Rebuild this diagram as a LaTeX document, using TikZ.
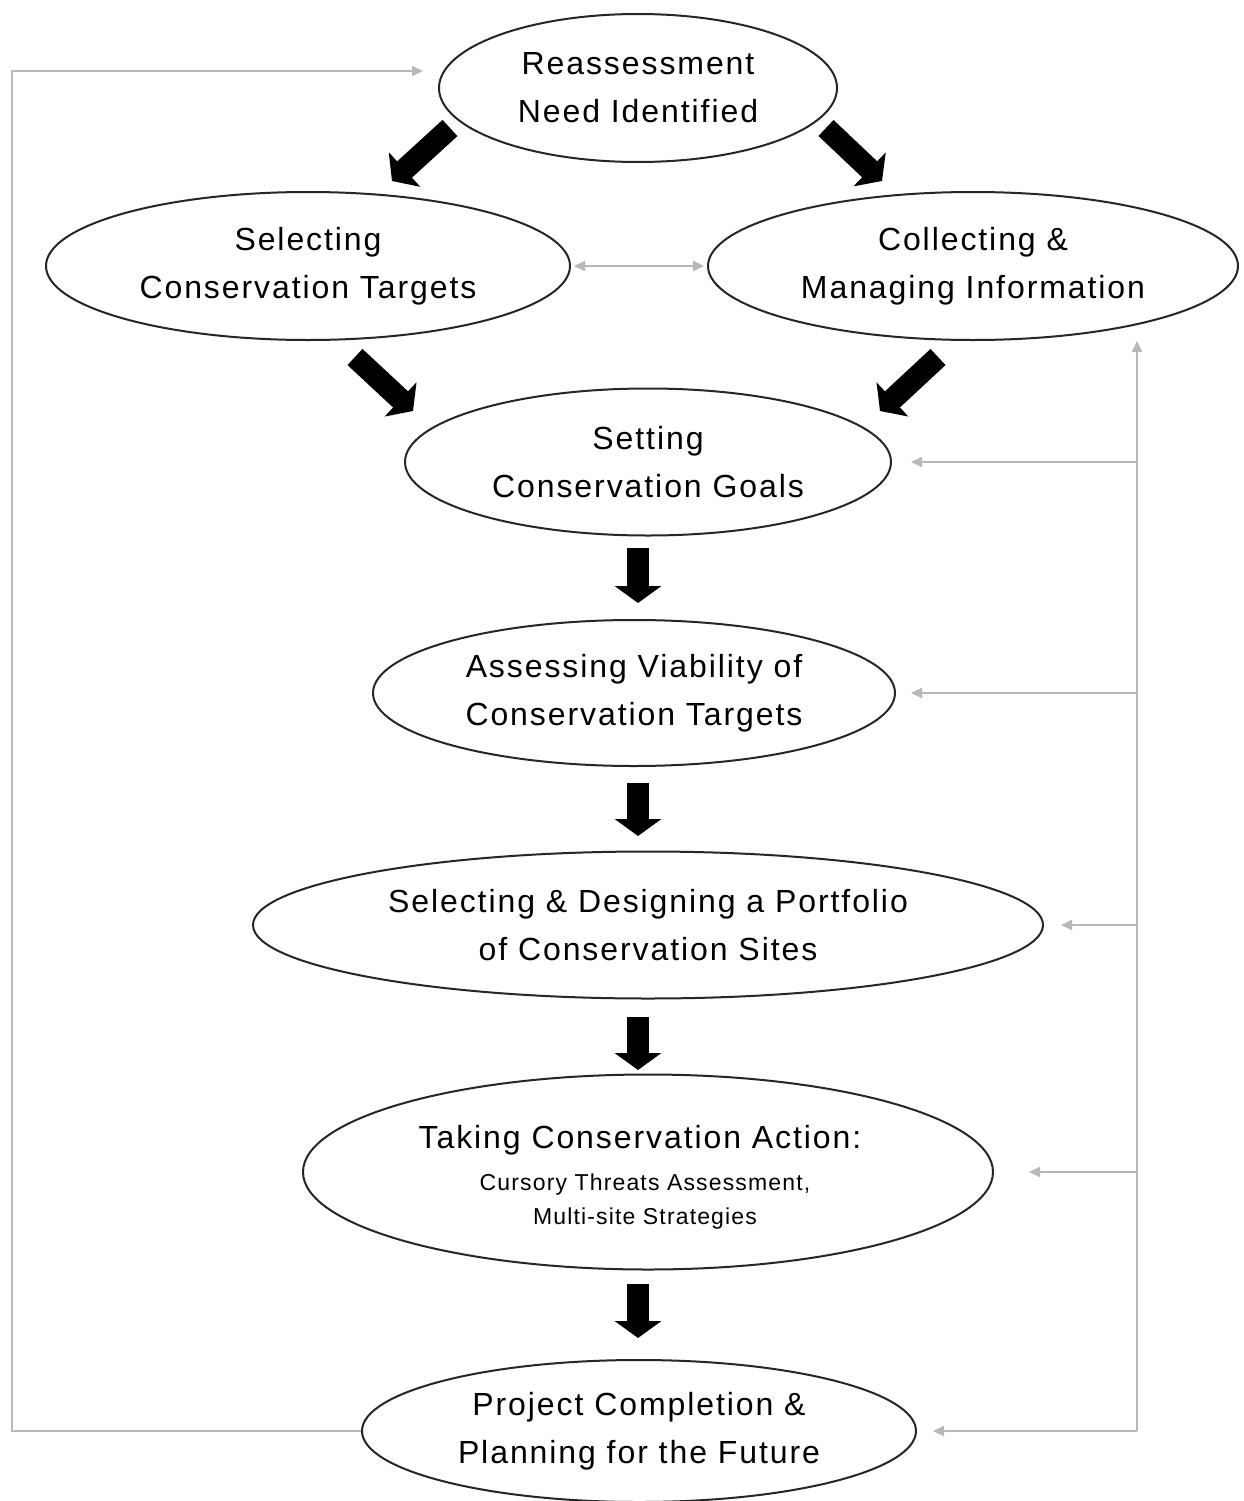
\documentclass[tikz,border=0pt]{standalone}
\usepackage{fontspec}
\setmainfont{Liberation Sans}[LetterSpace=6]
\usetikzlibrary{shapes.geometric,arrows.meta,calc}
\definecolor{lgray}{HTML}{B8B8B8}
\tikzset{
  oval/.style={ellipse,draw=black!85,line width=2pt,inner sep=0pt,align=center,
    font=\fontsize{32}{48}\selectfont},
  fat/.style={line width=22pt,draw=black,-{Triangle[length=17pt,width=46pt]}},
  gl/.style={draw=lgray,line width=2.2pt},
  ga/.style={gl,-{Triangle[length=11pt,width=10pt]}},
}
\begin{document}
\begin{tikzpicture}[x=1pt,y=-1pt]
\useasboundingbox (0,0) rectangle (1243,1501);
\fill[white] (0,0) rectangle (1243,1501);
% nodes
\node[oval,minimum width=398pt,minimum height=148pt] (reass) at (638,88) {Reassessment\\Need Identified};
\node[oval,minimum width=524pt,minimum height=148pt] (select) at (308,266) {Selecting\\Conservation Targets};
\node[oval,minimum width=530pt,minimum height=148pt] (collect) at (973,266) {Collecting \&\\Managing Information};
\node[oval,minimum width=486pt,minimum height=147pt] (goals) at (648,462) {Setting\\Conservation Goals};
\node[oval,minimum width=522pt,minimum height=146pt] (viab) at (634,693) {Assessing Viability of\\Conservation Targets};
\node[oval,minimum width=790pt,minimum height=147pt] (port) at (648,925) {Selecting \& Designing a Portfolio\\of Conservation Sites};
\node[oval,minimum width=690pt,minimum height=195pt] (action) at (648,1172) {};
\node[font=\fontsize{32}{48}\selectfont] (actT) at (640,1140) {Taking Conservation Action:};
\node[align=center,font=\fontsize{23}{34}\selectfont\addfontfeatures{LetterSpace=5}] (actS) at (645,1202) {Cursory Threats Assessment,\\Multi-site Strategies};
\node[oval,minimum width=554pt,minimum height=142pt] (proj) at (639,1431) {Project Completion \&\\Planning for the Future};
% fat arrow end points
\coordinate (f1a) at (450,128); \coordinate (f1b) at (392,181);
\coordinate (f2a) at (826,128); \coordinate (f2b) at (882,181);
\coordinate (f3a) at (355,357); \coordinate (f3b) at (413,411);
\coordinate (f4a) at (938,357); \coordinate (f4b) at (880,411);
\coordinate (f5a) at (638,548); \coordinate (f5b) at (638,603);
\coordinate (f6a) at (638,783); \coordinate (f6b) at (638,836);
\coordinate (f7a) at (638,1017); \coordinate (f7b) at (638,1070);
\coordinate (f8a) at (638,1284); \coordinate (f8b) at (638,1338);
\foreach \i in {1,...,8} {\draw[fat] (f\i a) -- (f\i b);}
% gray connectors
\draw[ga,{Triangle[length=11pt,width=10pt]}-{Triangle[length=11pt,width=10pt]},shorten <=3pt,shorten >=3pt] (select.east) -- (collect.west);
\draw[ga,shorten >=15pt] (proj.west) -- (12,1431) |- ([yshift=17pt]reass.west);
\coordinate (busB) at (1137,1431);
\draw[ga] (proj.east -| busB) -- (busB |- collect.south);
\draw[ga,shorten >=19pt] (busB |- goals.east) -- (goals.east);
\draw[ga,shorten >=15pt] (busB |- viab.east) -- (viab.east);
\draw[ga,shorten >=17pt] (busB |- port.east) -- (port.east);
\draw[ga,shorten >=35pt] (busB |- action.east) -- (action.east);
\draw[ga,shorten >=16pt] (busB) -- (proj.east);
\end{tikzpicture}
\end{document}
